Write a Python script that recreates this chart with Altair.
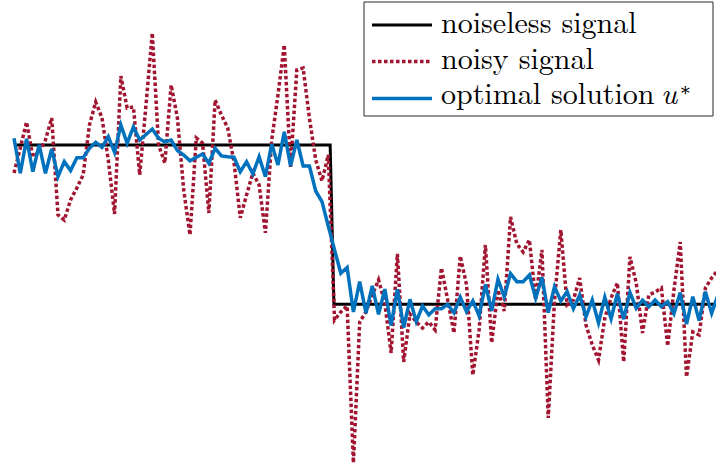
import altair as alt
import pandas as pd

# Sample index (x) and signal values (noiseless level: 1 before the jump, 0 after)
noisy = [0.824, 0.981, 1.144, 0.925, 0.956, 1.031, 1.169, 0.561, 0.529, 0.655,
         0.730, 0.812, 1.125, 1.270, 1.169, 0.906, 0.567, 1.433, 1.232, 1.238,
         0.812, 1.251, 1.703, 1.000, 0.887, 1.377, 1.169, 0.717, 0.435, 1.044,
         1.012, 0.573, 1.282, 1.188, 1.107, 0.893, 0.542, 0.686, 0.824, 0.749,
         0.448, 1.031, 1.314, 1.628, 0.862, 1.471, 1.483, 1.169, 0.906, 0.774,
         0.937, -0.099, -0.048, -0.011, -0.996, -0.111, -0.048, 0.058, 0.153, 0.008,
         -0.306, 0.316, -0.362, -0.061, -0.111, -0.149, -0.111, -0.161, 0.228, 0.027,
         -0.180, 0.303, 0.121, -0.444, -0.161, 0.372, -0.243, 0.090, -0.042, 0.548,
         0.379, 0.328, 0.404, 0.027, 0.341, -0.714, 0.027, 0.466, -0.004, 0.027,
         0.165, -0.130, -0.255, -0.350, -0.086, 0.040, 0.134, -0.362, 0.297, 0.134,
         -0.180, 0.058, 0.077, 0.102, -0.262, 0.090, 0.391, -0.456, -0.174, -0.193,
         0.102, 0.165, 0.215]

optimal = [1.042, 0.822, 1.038, 0.832, 1.000, 0.822, 0.975, 0.801, 0.895, 0.839,
           0.920, 0.920, 0.979, 1.017, 0.985, 1.052, 0.953, 1.125, 1.011, 1.113,
           1.031, 1.066, 1.100, 1.042, 1.019, 1.031, 0.965, 0.937, 0.900, 0.923,
           0.943, 0.885, 0.979, 0.931, 0.926, 0.923, 0.832, 0.895, 0.818, 0.926,
           0.801, 1.006, 0.874, 1.083, 0.868, 1.031, 0.868, 0.868, 0.711, 0.644,
           0.491, 0.341, 0.195, 0.231, -0.048, 0.142, -0.055, 0.115, -0.064, 0.095,
           -0.133, 0.094, -0.146, 0.031, -0.109, -0.011, -0.067, -0.028, -0.028, -0.001,
           -0.053, 0.044, -0.046, 0.021, -0.073, 0.124, -0.042, 0.157, 0.046, 0.192,
           0.142, 0.142, 0.184, 0.038, 0.169, -0.053, 0.110, 0.021, 0.079, -0.028,
           0.058, -0.080, 0.027, -0.117, 0.044, -0.091, 0.067, -0.094, 0.074, -0.025,
           0.025, -0.015, 0.027, -0.015, 0.016, -0.059, 0.073, -0.124, 0.048, -0.103,
           0.079, -0.056, 0.058]

clean_x = [0, 50.3, 50.9, 112]
clean_y = [1, 1, 0, 0]

labels = ["noiseless signal", "noisy signal", "optimal solution"]

idx = list(range(len(noisy)))
df_noisy = pd.DataFrame({"i": idx, "v": noisy})
df_opt = pd.DataFrame({"i": list(range(len(optimal))), "v": optimal})
df_clean = pd.DataFrame({"i": clean_x, "v": clean_y})

xs = alt.Scale(domain=[-2.228, 111.69], nice=False, zero=False)
ys = alt.Scale(domain=[-1.028, 1.910], nice=False, zero=False)

SERIF = "Latin Modern Roman"


def enc():
    return dict(x=alt.X("i:Q", scale=xs, axis=None),
                y=alt.Y("v:Q", scale=ys, axis=None))


clean_l = alt.Chart(df_clean).mark_line(color="black", strokeWidth=3, clip=True).encode(**enc())
noisy_l = alt.Chart(df_noisy).mark_line(color="#A2142F", strokeWidth=3.5,
                                        strokeDash=[3.5, 2.5], clip=True).encode(**enc())
opt_l = alt.Chart(df_opt).mark_line(color="#0072BD", strokeWidth=3.5, clip=True).encode(**enc())

one = alt.Data(values=[{}])

box = alt.Chart(one).mark_rect(fill="white", stroke="#262626", strokeWidth=1).encode(
    x=alt.value(364), x2=alt.value(713), y=alt.value(2), y2=alt.value(116))

leg_y = [25, 61.5, 98.5]
text_y = [32.5, 68.5, 104]
leg_colors = ["black", "#A2142F", "#0072BD"]
leg_dash = [[1, 0], [3.5, 2.5], [1, 0]]
leg_w = [3, 3.5, 3.5]

layers = [clean_l, noisy_l, opt_l, box]
for k in range(3):
    layers.append(alt.Chart(one).mark_rule(color=leg_colors[k], strokeWidth=leg_w[k],
                                           strokeDash=leg_dash[k]).encode(
        x=alt.value(372), x2=alt.value(432), y=alt.value(leg_y[k])))
    layers.append(alt.Chart(one).mark_text(text=labels[k], font=SERIF, fontSize=30,
                                           align="left", baseline="alphabetic",
                                           color="black").encode(
        x=alt.value(441), y=alt.value(text_y[k])))

layers.append(alt.Chart(one).mark_text(text="u", font=SERIF, fontSize=30,
                                       fontStyle="italic", align="left", baseline="alphabetic",
                                       color="black").encode(x=alt.value(661), y=alt.value(104)))
layers.append(alt.Chart(one).mark_text(text="∗", font="DejaVu Serif", fontSize=18,
                                       align="left", baseline="alphabetic",
                                       color="black").encode(x=alt.value(679), y=alt.value(96)))

chart = alt.layer(*layers).properties(
    width=716, height=468, padding=0,
    autosize=alt.AutoSizeParams(type="none"),
    background="white",
).configure_view(stroke=None)

chart.save("out.html", embed_options={"renderer": "svg", "actions": False})
